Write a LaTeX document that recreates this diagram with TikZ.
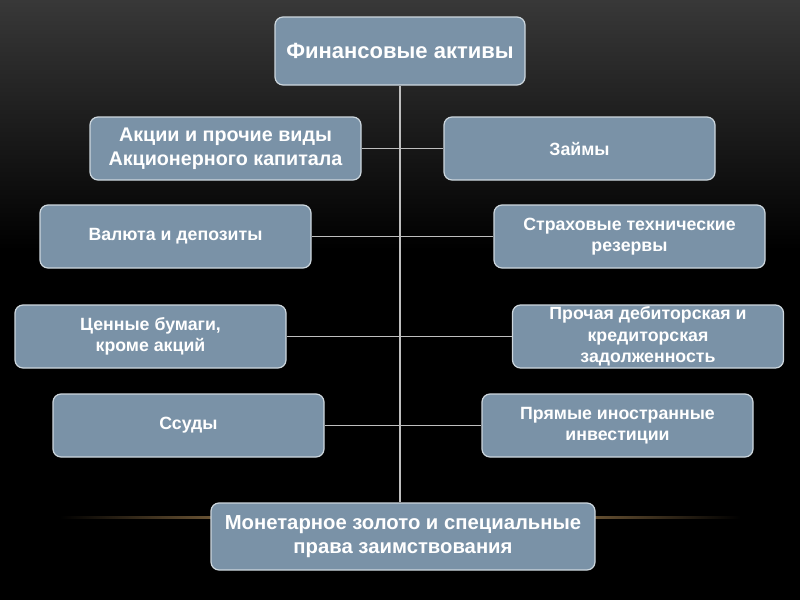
\documentclass[tikz,border=0pt]{standalone}
\usepackage{fontspec}
\setmainfont{Liberation Sans}
\definecolor{boxfill}{RGB}{122,146,167}
\definecolor{boxedge}{RGB}{205,215,222}
\definecolor{linkgray}{RGB}{190,190,190}
\definecolor{bgtop}{RGB}{56,56,56}
\definecolor{glint}{RGB}{235,185,115}
\begin{document}
\begin{tikzpicture}[x=0.75pt,y=-0.75pt,
  box/.style={draw=boxedge, line width=0.9pt, fill=boxfill, rounded corners=6pt,
    align=center, text=white, inner sep=0pt,
    minimum width=203.25pt, minimum height=47.25pt},
  small/.style={font=\fontsize{13.3}{16}\selectfont\bfseries},
  mid/.style={font=\fontsize{14.8}{18}\selectfont\bfseries},
  link/.style={draw=linkgray, line width=1.1pt}]
\useasboundingbox (0,0) rectangle (800,600);
\shade[top color=bgtop, bottom color=black] (0,0) rectangle (800,250);
\fill[black] (0,249) rectangle (800,600);
\shade[left color=black, right color=black, middle color=glint] (60,516.8) rectangle (740,518.2);

\node[box, font=\fontsize{16.5}{20}\selectfont\bfseries, minimum width=187.5pt, minimum height=51pt] (top) at (400,51) {Финансовые активы};
\node[box, font=\fontsize{15.2}{18}\selectfont\bfseries, minimum width=288pt, minimum height=50.25pt] (mon) at (403,536.5) {Монетарное золото и специальные\\права заимствования};

\node[box, mid] (akc) at (225.5,148.5) {Акции и прочие виды\\Акционерного капитала};
\node[box, small] (zaim) at (579.5,148.5) {Займы};
\node[box, small] (val) at (175.5,236.5) {Валюта и депозиты};
\node[box, small] (strah) at (629.5,236.5) {Страховые технические\\резервы};
\node[box, small] (cen) at (150.5,336.5) {Ценные бумаги,\\кроме акций};
\node[box, small] (proch) at (648,336.5) {Прочая дебиторская и\\кредиторская\\задолженность};
\node[box, small] (ssud) at (188.5,425.5) {Ссуды};
\node[box, small] (pryam) at (617.5,425.5) {Прямые иностранные\\инвестиции};

\draw[link] (top.south) -- (top.south |- mon.north);
\draw[link] (akc.east) -- (zaim.west);
\draw[link] (val.east) -- (strah.west);
\draw[link] (cen.east) -- (proch.west);
\draw[link] (ssud.east) -- (pryam.west);
\end{tikzpicture}
\end{document}
